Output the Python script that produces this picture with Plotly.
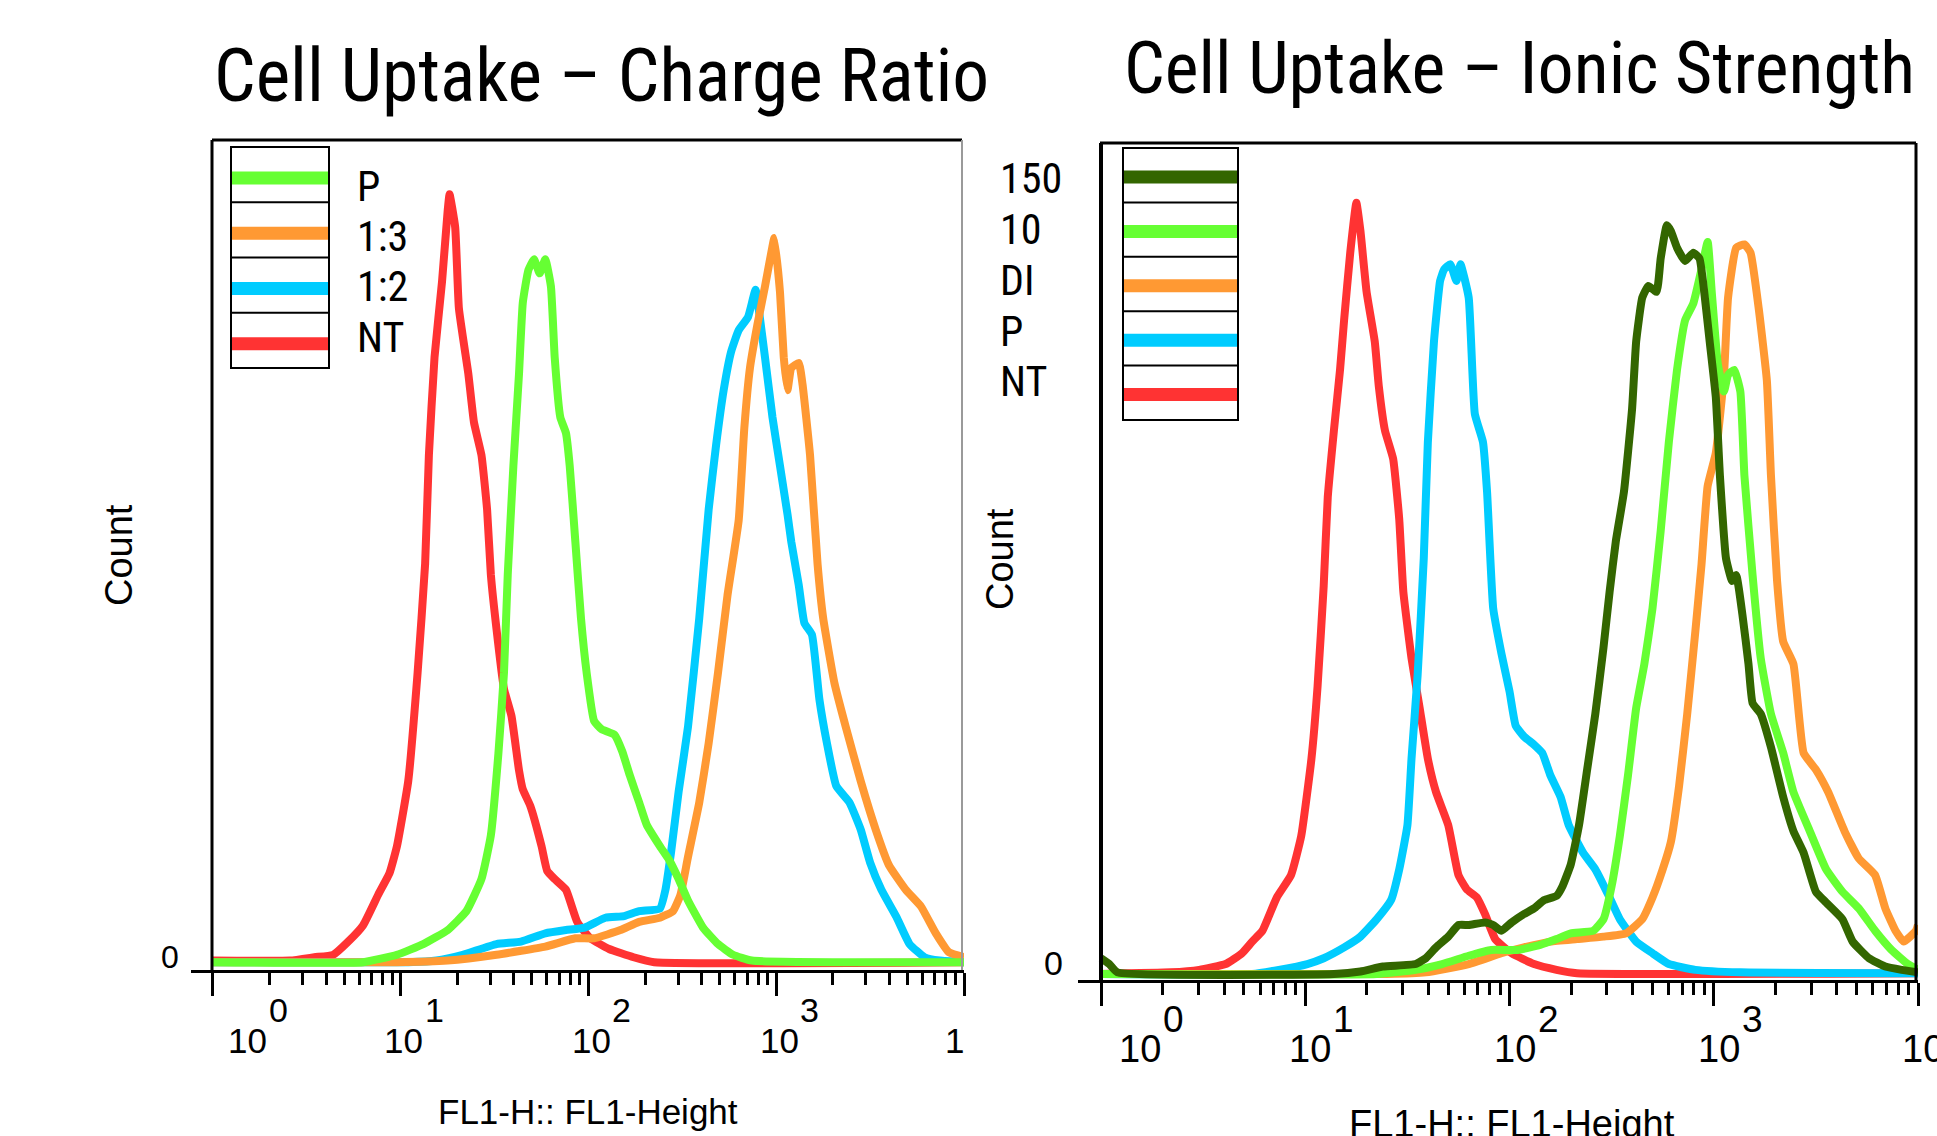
import plotly.graph_objects as go

W, H = 1937, 1136

# ---------------- data: log10(FL1-H) positions and relative counts ----------------
# Panel 1: Cell Uptake - Charge Ratio
charge_names = ["P", "1:3", "1:2", "NT"]
charge_colors = ["#66FF33", "#FF9933", "#00CCFF", "#FF3333"]

charge_p_log = [0.00, 0.80, 0.98, 1.12, 1.25, 1.35, 1.43, 1.48, 1.52, 1.55, 1.57, 1.60, 1.63, 1.65,
                1.68, 1.71, 1.74, 1.77, 1.80, 1.82, 1.85, 1.88, 1.90, 1.93, 1.96, 1.99, 2.03, 2.07,
                2.14, 2.18, 2.22, 2.27, 2.31, 2.38, 2.43, 2.48, 2.53, 2.61, 2.69, 2.77, 2.87, 4.00]
charge_p_cnt = [0.1, 0.1, 1.0, 2.3, 4.0, 6.3, 10.2, 15.5, 25.4, 35.3, 47.2, 60.4, 71.6, 80.2,
                84.2, 85.5, 83.8, 85.5, 82.2, 73.6, 66.3, 64.4, 60.4, 51.2, 41.9, 35.3, 29.4, 28.4,
                27.7, 25.7, 22.8, 19.5, 16.8, 14.2, 12.5, 10.2, 7.6, 4.3, 2.3, 1.0, 0.3, 0.1]

charge_13_log = [0.00, 0.98, 1.25, 1.51, 1.77, 1.93, 2.03, 2.17, 2.27, 2.38, 2.45, 2.49, 2.53, 2.59,
                 2.64, 2.69, 2.74, 2.80, 2.83, 2.86, 2.90, 2.94, 2.98, 2.99, 3.02, 3.04, 3.06, 3.08,
                 3.12, 3.14, 3.18, 3.22, 3.25, 3.31, 3.37, 3.45, 3.53, 3.60, 3.69, 3.77, 3.85, 3.92, 4.00]
charge_13_cnt = [0.1, 0.1, 0.3, 1.0, 2.0, 3.0, 3.0, 4.0, 5.0, 5.5, 6.3, 8.3, 12.9, 19.5,
                 26.7, 35.3, 44.6, 53.8, 65.0, 72.3, 77.6, 82.2, 87.1, 88.1, 81.5, 73.6, 69.6, 72.3,
                 72.9, 70.3, 61.7, 48.5, 41.9, 34.0, 28.7, 22.1, 16.2, 11.9, 8.9, 6.9, 3.6, 1.3, 0.7]

charge_12_log = [0.00, 1.04, 1.19, 1.33, 1.51, 1.64, 1.77, 1.88, 1.98, 2.09, 2.19, 2.27, 2.38, 2.41,
                 2.44, 2.48, 2.53, 2.59, 2.64, 2.68, 2.72, 2.76, 2.80, 2.85, 2.89, 2.91, 2.94, 2.98,
                 3.02, 3.06, 3.08, 3.12, 3.15, 3.19, 3.23, 3.27, 3.32, 3.39, 3.45, 3.50, 3.56, 3.64,
                 3.71, 3.79, 3.87, 4.00]
charge_12_cnt = [0.1, 0.1, 0.3, 1.0, 2.3, 2.6, 3.6, 4.0, 4.3, 5.5, 5.7, 6.3, 6.6, 8.9,
                 13.5, 20.8, 28.7, 41.9, 55.1, 63.0, 69.6, 74.3, 76.9, 78.5, 81.8, 78.9, 73.6, 66.3,
                 60.4, 54.5, 51.2, 45.9, 41.3, 39.9, 32.0, 26.7, 21.5, 19.5, 16.2, 12.2, 8.9, 5.6,
                 2.3, 0.7, 0.3, 0.1]

charge_nt_log = [0.00, 0.41, 0.54, 0.64, 0.72, 0.80, 0.88, 0.94, 0.98, 1.04, 1.09, 1.13, 1.15, 1.18,
                 1.22, 1.25, 1.26, 1.29, 1.31, 1.36, 1.39, 1.43, 1.46, 1.48, 1.51, 1.55, 1.59, 1.63,
                 1.65, 1.69, 1.75, 1.78, 1.82, 1.88, 1.94, 2.01, 2.11, 2.24, 2.35, 4.00]
charge_nt_cnt = [0.3, 0.3, 0.7, 1.0, 2.6, 4.6, 8.3, 10.9, 14.2, 22.1, 35.3, 48.5, 61.7, 73.6,
                 82.8, 91.4, 93.4, 89.4, 79.5, 71.6, 65.7, 61.7, 55.1, 47.2, 40.6, 33.3, 30.0, 23.4,
                 21.1, 19.1, 14.2, 11.2, 10.2, 8.9, 5.0, 3.0, 1.7, 0.7, 0.1, 0.1]

# Panel 2: Cell Uptake - Ionic Strength
ionic_names = ["150", "10", "DI", "P", "NT"]
ionic_colors = ["#336600", "#66FF33", "#FF9933", "#00CCFF", "#FF3333"]

ionic_150_log = [0.00, 0.04, 0.08, 1.14, 1.27, 1.38, 1.54, 1.59, 1.64, 1.70, 1.75, 1.80, 1.88, 1.92,
                 1.96, 2.01, 2.07, 2.12, 2.17, 2.23, 2.26, 2.30, 2.34, 2.38, 2.42, 2.46, 2.49, 2.52,
                 2.56, 2.60, 2.62, 2.65, 2.68, 2.72, 2.74, 2.77, 2.79, 2.82, 2.86, 2.90, 2.93, 2.95,
                 2.98, 3.01, 3.03, 3.06, 3.09, 3.11, 3.14, 3.17, 3.19, 3.23, 3.28, 3.34, 3.39, 3.44,
                 3.50, 3.55, 3.63, 3.68, 3.76, 3.84, 3.92, 4.00]
ionic_150_cnt = [1.9, 1.2, 0.2, 0.0, 0.3, 0.9, 1.2, 1.9, 3.2, 4.5, 5.9, 5.9, 6.2, 5.9,
                 5.2, 6.2, 7.2, 7.9, 8.9, 9.4, 10.6, 13.2, 17.9, 24.6, 31.3, 39.3, 46.0, 52.0,
                 58.0, 68.0, 76.1, 81.4, 82.8, 82.1, 86.1, 90.1, 89.4, 87.4, 85.8, 86.8, 86.1, 82.8,
                 76.1, 69.4, 60.0, 50.0, 47.3, 48.0, 43.3, 37.3, 32.6, 31.3, 27.3, 21.3, 17.2, 14.6,
                 9.9, 8.6, 6.6, 3.9, 1.9, 0.9, 0.5, 0.2]

ionic_10_log = [0.00, 1.35, 1.54, 1.67, 1.80, 1.91, 2.04, 2.15, 2.23, 2.30, 2.41, 2.46, 2.50, 2.54,
                2.58, 2.62, 2.66, 2.70, 2.74, 2.78, 2.82, 2.86, 2.90, 2.94, 2.97, 2.99, 3.02, 3.05,
                3.07, 3.10, 3.13, 3.15, 3.19, 3.23, 3.28, 3.34, 3.39, 3.47, 3.55, 3.63, 3.71, 3.79,
                3.87, 3.95, 4.00]
ionic_10_cnt = [0.0, 0.0, 0.5, 1.2, 2.2, 2.9, 2.9, 3.5, 4.2, 4.9, 5.2, 6.6, 10.6, 16.6,
                23.9, 32.0, 37.3, 44.0, 53.3, 64.0, 72.7, 78.7, 80.7, 84.8, 88.1, 82.1, 73.4, 70.1,
                72.1, 72.7, 70.1, 60.0, 48.0, 38.0, 31.3, 26.6, 21.9, 17.2, 12.6, 9.9, 7.9, 5.2,
                2.9, 1.2, 0.5]

ionic_di_log = [0.00, 1.40, 1.59, 1.80, 1.96, 2.07, 2.20, 2.33, 2.46, 2.57, 2.65, 2.70, 2.75, 2.79,
                2.83, 2.87, 2.91, 2.94, 2.97, 3.01, 3.05, 3.07, 3.11, 3.15, 3.18, 3.22, 3.26, 3.28,
                3.31, 3.34, 3.39, 3.44, 3.50, 3.56, 3.64, 3.71, 3.79, 3.84, 3.89, 3.93, 3.99, 4.00]
ionic_di_cnt = [0.0, 0.0, 0.2, 1.2, 2.5, 3.2, 3.9, 4.2, 4.5, 4.9, 6.6, 9.2, 12.6, 15.9,
                22.6, 31.3, 41.3, 49.3, 58.7, 62.7, 72.1, 81.4, 87.4, 87.8, 86.8, 80.1, 71.4, 60.0,
                47.3, 40.0, 37.3, 26.6, 24.6, 21.9, 17.2, 13.9, 11.9, 7.9, 5.2, 3.9, 5.2, 5.9]

ionic_p_log = [0.00, 0.74, 0.87, 1.01, 1.09, 1.19, 1.27, 1.35, 1.42, 1.46, 1.50, 1.52, 1.55, 1.58,
               1.60, 1.63, 1.66, 1.68, 1.71, 1.74, 1.76, 1.80, 1.83, 1.87, 1.89, 1.92, 1.96, 2.00,
               2.03, 2.07, 2.12, 2.16, 2.20, 2.25, 2.29, 2.36, 2.42, 2.49, 2.54, 2.62, 2.70, 2.78,
               2.91, 3.13, 4.00]
ionic_p_cnt = [0.0, 0.0, 0.5, 1.2, 1.9, 3.2, 4.5, 6.6, 8.9, 12.6, 17.9, 25.9, 36.0, 50.0,
               64.0, 76.1, 83.4, 84.8, 85.4, 83.4, 85.4, 81.4, 67.4, 64.0, 58.0, 44.0, 38.6, 34.0,
               29.9, 28.6, 27.6, 26.6, 23.9, 21.3, 17.9, 14.6, 12.6, 9.2, 6.6, 3.9, 2.5, 1.2,
               0.5, 0.2, 0.1]

ionic_nt_log = [0.00, 0.34, 0.48, 0.61, 0.69, 0.74, 0.79, 0.86, 0.93, 0.98, 1.03, 1.06, 1.09, 1.11,
                1.14, 1.17, 1.19, 1.22, 1.25, 1.27, 1.30, 1.34, 1.36, 1.39, 1.43, 1.46, 1.48, 1.52,
                1.56, 1.60, 1.64, 1.70, 1.75, 1.79, 1.84, 1.88, 1.93, 2.01, 2.12, 2.23, 2.33, 4.00]
ionic_nt_cnt = [0.0, 0.2, 0.5, 1.2, 2.5, 3.9, 5.2, 9.2, 11.9, 16.6, 25.9, 34.6, 46.7, 57.4,
                65.4, 72.7, 78.7, 86.8, 92.8, 89.4, 82.1, 76.1, 70.7, 65.4, 62.0, 54.7, 46.0, 38.0,
                32.0, 25.9, 21.9, 17.9, 11.9, 10.2, 9.2, 7.2, 4.2, 2.5, 1.2, 0.5, 0.1, 0.1]

decade_exponents = ["0", "1", "2", "3", "4"]

charge_series = [(charge_p_log, charge_p_cnt), (charge_13_log, charge_13_cnt),
                 (charge_12_log, charge_12_cnt), (charge_nt_log, charge_nt_cnt)]
ionic_series = [(ionic_150_log, ionic_150_cnt), (ionic_10_log, ionic_10_cnt),
                (ionic_di_log, ionic_di_cnt), (ionic_p_log, ionic_p_cnt),
                (ionic_nt_log, ionic_nt_cnt)]

NARROW = "Roboto Condensed, DejaVu Sans Condensed, Liberation Sans, sans-serif"
REGULAR = "Liberation Sans, Arial, sans-serif"
LINE_W = 8


def px(x):
    return x / W


def py(y):
    return 1 - y / H


fig = go.Figure()

# traces: legend's first entry is drawn last so it sits on top
for (lg, ct), name, col in reversed(list(zip(charge_series, charge_names, charge_colors))):
    fig.add_trace(go.Scatter(x=[10 ** v for v in lg], y=ct, mode="lines", name=name,
                             line=dict(color=col, width=LINE_W, shape="spline", smoothing=0.4),
                             xaxis="x", yaxis="y", showlegend=False, hoverinfo="skip"))
for (lg, ct), name, col in reversed(list(zip(ionic_series, ionic_names, ionic_colors))):
    fig.add_trace(go.Scatter(x=[10 ** v for v in lg], y=ct, mode="lines", name=name,
                             line=dict(color=col, width=LINE_W, shape="spline", smoothing=0.4),
                             xaxis="x2", yaxis="y2", showlegend=False, hoverinfo="skip"))

major = [10 ** k for k in range(5)]
minor = [m * 10 ** k for k in range(4) for m in range(2, 10)]


def xaxis_cfg(domain, rng, anchor):
    return dict(type="log", domain=domain, range=rng, anchor=anchor, showline=True,
                linecolor="black", linewidth=3, ticks="outside", ticklen=23, tickwidth=3,
                tickcolor="black", tickvals=major, showticklabels=False, showgrid=False,
                zeroline=False, fixedrange=True,
                minor=dict(tickvals=minor, ticks="outside", ticklen=12, tickwidth=3,
                           tickcolor="black", showgrid=False))


def yaxis_cfg(domain, rng, anchor):
    return dict(domain=domain, range=rng, anchor=anchor, showline=False, showticklabels=False,
                showgrid=False, zeroline=False, ticks="", fixedrange=True)


fig.update_layout(
    width=W, height=H, margin=dict(l=0, r=0, t=0, b=0),
    paper_bgcolor="white", plot_bgcolor="rgba(0,0,0,0)", showlegend=False,
    xaxis=xaxis_cfg([px(191), px(964)], [-0.117, 4.0], "y"),
    yaxis=yaxis_cfg([py(970), py(140)], [-0.85, 100], "x"),
    xaxis2=xaxis_cfg([px(1078), px(1918)], [-0.113, 4.0], "y2"),
    yaxis2=yaxis_cfg([py(980), py(143)], [-0.72, 100], "x2"),
)

shapes = []
annotations = []


def line(x0, y0, x1, y1, color="black", width=3):
    shapes.append(dict(type="line", xref="paper", yref="paper", x0=px(x0), y0=py(y0),
                       x1=px(x1), y1=py(y1), line=dict(color=color, width=width), layer="above"))


def text(x, y, s, size, family, xanchor="center", yanchor="middle", angle=0):
    annotations.append(dict(x=px(x), y=py(y), xref="paper", yref="paper", text=s,
                            showarrow=False, xanchor=xanchor, yanchor=yanchor, textangle=angle,
                            font=dict(size=size, family=family, color="black")))


# panel frames
line(212, 140, 962, 140)
line(212, 140, 212, 970)
line(962, 140, 962, 970, color="#9a9a9a", width=2)
line(1100, 143, 1916, 143)
line(1101, 143, 1101, 980, width=4)
line(1916, 143, 1916, 980)


# legend keys
def legend_box(x0, x1, top, row_h, colors, bar_off):
    n = len(colors)
    bottom = top + row_h * n
    shapes.append(dict(type="rect", xref="paper", yref="paper", x0=px(x0), x1=px(x1),
                       y0=py(bottom), y1=py(top), line=dict(color="black", width=2),
                       fillcolor="white", layer="above"))
    for i, c in enumerate(colors):
        if i > 0:
            line(x0, top + row_h * i, x1, top + row_h * i, width=2)
        yb = top + row_h * i + bar_off
        line(x0 + 1, yb, x1 - 1, yb, color=c, width=13)


legend_box(231, 329, 147, 55.25, charge_colors, 31)
legend_box(1123, 1238, 148, 54.4, ionic_colors, 29)

for i, name in enumerate(charge_names):
    text(355, 186 + 50.5 * i, name, 42, NARROW, xanchor="left")
for i, name in enumerate(ionic_names):
    text(998, 179 + 50.7 * i, name, 42, NARROW, xanchor="left")

# titles
text(601, 76, "Cell Uptake \u2013 Charge Ratio", 73.5, NARROW)
text(1519, 68, "Cell Uptake \u2013 Ionic Strength", 72, NARROW)

# y labels
text(119, 555, "Count", 38, REGULAR, angle=-90)
text(1000, 559, "Count", 38, REGULAR, angle=-90)
text(170, 957, "0", 32, REGULAR)
text(1053, 963, "0", 34, REGULAR)

# x labels
text(588, 1111, "FL1-H:: FL1-Height", 35, REGULAR)
text(1512, 1124, "FL1-H:: FL1-Height", 38, REGULAR)


# decade tick labels: "10" with a raised exponent
def decade_labels(xref, base_y, sup_y, size, first_shift, shift, sup_gap, count):
    for k, e in enumerate(decade_exponents[:count]):
        dx = first_shift if k == 0 else shift
        annotations.append(dict(x=k, y=py(base_y), xref=xref, yref="paper", text="10",
                                showarrow=False, xanchor="center", yanchor="middle",
                                xshift=dx, font=dict(size=size, family=REGULAR, color="black")))
        annotations.append(dict(x=k, y=py(sup_y), xref=xref, yref="paper", text=e,
                                showarrow=False, xanchor="left", yanchor="middle",
                                xshift=dx + sup_gap, font=dict(size=size - 1, family=REGULAR,
                                                                color="black")))


decade_labels("x", 1040, 1010, 35, 35, 3, 19, 4)
decade_labels("x2", 1049, 1019, 38, 39, 5, 21, 5)
# last label of the first panel, cut at the panel edge
annotations.append(dict(x=4, y=py(1040), xref="x", yref="paper", text="1", showarrow=False,
                        xanchor="center", yanchor="middle", xshift=-10,
                        font=dict(size=35, family=REGULAR, color="black")))

fig.update_layout(shapes=shapes, annotations=annotations)
fig.write_html("out.html")
